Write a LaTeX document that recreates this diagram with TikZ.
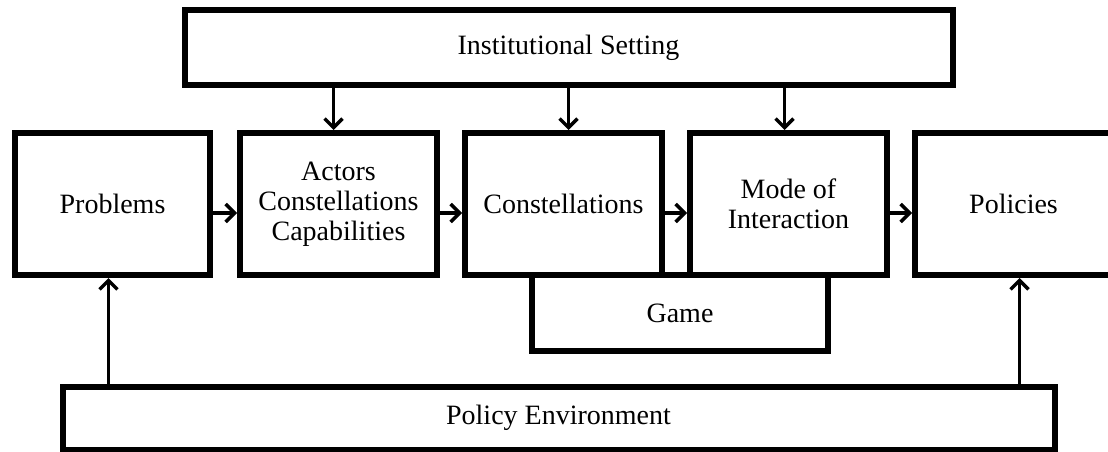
\documentclass[tikz,border=0pt]{standalone}
\usepackage{fontspec}
\setmainfont{Liberation Serif}
\usetikzlibrary{arrows.meta}

\begin{document}
\begin{tikzpicture}[x=1pt,y=-1pt]
  \tikzset{box/.style = {shape=rectangle,draw,line width=6pt,inner sep=2pt,align=center,
      minimum width=197pt,minimum height=142pt,font=\fontsize{28}{30}\selectfont}}
  \tikzset{edge/.style = {-{Straight Barb[length=9pt,width=18pt,line width=3.5pt]},line width=3.5pt}}

  \useasboundingbox (0,0) rectangle (1108,452);

	\node[box,minimum width=768pt,minimum height=75pt] (inst) at (568.5,47.5) {Institutional Setting};

	\node[box,minimum width=195pt] (prob) at (112.5,204) {Problems};
	\node[box] (act) at (338.5,204) {Actors\\Constellations\\Capabilities};
	\node[box] (con) at (563.5,204) {Constellations};
	\node[box] (mode) at (788.5,204) {Mode of\\Interaction};
	\node[box] (pol) at (1013.5,204) {Policies};

	\node[box,minimum width=296pt,minimum height=76pt] (game) at (680,313) {Game};
	\node[box,minimum width=992pt,minimum height=63pt] (env) at (558.5,418) {Policy Environment};

       \foreach \from/\to in {prob/act, act/con, con/mode, mode/pol}
    \draw[edge] ([yshift=-9pt]\from.east) -- ([yshift=-9pt]\to.west);

	\draw[edge] ([xshift=-5pt]act.north |- inst.south) -- ([xshift=-5pt]act.north);
	\draw[edge] ([xshift=5pt]con.north |- inst.south) -- ([xshift=5pt]con.north);
	\draw[edge] ([xshift=-4pt]mode.north |- inst.south) -- ([xshift=-4pt]mode.north);

	\draw[edge] ([xshift=-4pt]prob.south |- env.north) -- ([xshift=-4pt]prob.south);
	\draw[edge] ([xshift=6pt]pol.south |- env.north) -- ([xshift=6pt]pol.south);
\end{tikzpicture}
\end{document}
